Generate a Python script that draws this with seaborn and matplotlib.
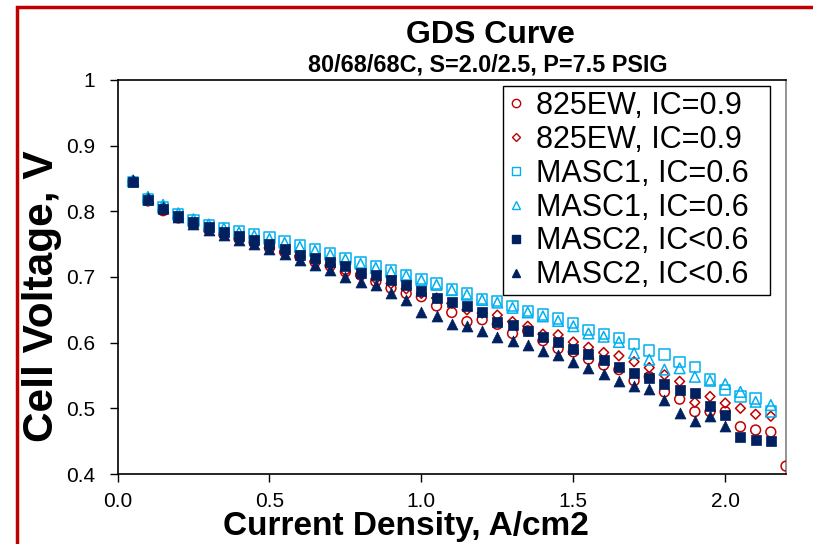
import numpy as np
import pandas as pd
import matplotlib
matplotlib.use("Agg")
import matplotlib.pyplot as plt
from matplotlib.lines import Line2D
from matplotlib.patches import Rectangle
from matplotlib.ticker import FuncFormatter
import seaborn as sns

# ---------------- data ----------------
current = [0.05, 0.1, 0.15, 0.2, 0.25, 0.3, 0.35, 0.4, 0.45, 0.5, 0.55, 0.6, 0.65, 0.7,
           0.75, 0.8, 0.85, 0.9, 0.95, 1.0, 1.05, 1.1, 1.15, 1.2, 1.25, 1.3, 1.35, 1.4,
           1.45, 1.5, 1.55, 1.6, 1.65, 1.7, 1.75, 1.8, 1.85, 1.9, 1.95, 2.0, 2.05, 2.1, 2.15]
current_825_circle = current + [2.2]
current_masc2_tri = current[:40]

v_825_circle = [0.845, 0.816, 0.801, 0.790, 0.781, 0.772, 0.765, 0.758, 0.752, 0.744, 0.738,
                0.731, 0.723, 0.717, 0.708, 0.703, 0.693, 0.683, 0.675, 0.670, 0.656, 0.646,
                0.632, 0.635, 0.628, 0.614, 0.618, 0.603, 0.591, 0.586, 0.575, 0.566, 0.559,
                0.542, 0.548, 0.525, 0.514, 0.495, 0.495, 0.495, 0.472, 0.467, 0.464, 0.412]
v_825_diamond = [0.845, 0.816, 0.802, 0.791, 0.782, 0.773, 0.766, 0.759, 0.753, 0.745, 0.739,
                 0.732, 0.724, 0.718, 0.709, 0.704, 0.697, 0.690, 0.682, 0.675, 0.668, 0.660,
                 0.650, 0.645, 0.642, 0.632, 0.625, 0.613, 0.612, 0.601, 0.593, 0.585, 0.580,
                 0.571, 0.562, 0.551, 0.541, 0.509, 0.518, 0.508, 0.500, 0.491, 0.488]
v_masc1_square = [0.845, 0.818, 0.806, 0.795, 0.786, 0.779, 0.775, 0.770, 0.765, 0.760, 0.754,
                  0.748, 0.742, 0.736, 0.729, 0.722, 0.716, 0.710, 0.703, 0.697, 0.690, 0.681,
                  0.675, 0.667, 0.663, 0.656, 0.648, 0.643, 0.637, 0.630, 0.619, 0.613, 0.607,
                  0.598, 0.588, 0.582, 0.571, 0.563, 0.544, 0.528, 0.518, 0.515, 0.495]
v_masc1_tri = [0.847, 0.822, 0.810, 0.797, 0.788, 0.780, 0.774, 0.768, 0.763, 0.758, 0.752,
               0.746, 0.740, 0.734, 0.727, 0.720, 0.714, 0.708, 0.702, 0.695, 0.688, 0.680,
               0.673, 0.665, 0.661, 0.653, 0.646, 0.640, 0.633, 0.625, 0.614, 0.609, 0.601,
               0.584, 0.574, 0.559, 0.561, 0.548, 0.542, 0.537, 0.525, 0.510, 0.505]
v_masc2_square = [0.845, 0.818, 0.804, 0.793, 0.784, 0.776, 0.769, 0.763, 0.757, 0.750, 0.742,
                  0.734, 0.729, 0.723, 0.716, 0.706, 0.703, 0.695, 0.688, 0.678, 0.668, 0.662,
                  0.656, 0.647, 0.631, 0.627, 0.618, 0.609, 0.601, 0.590, 0.582, 0.573, 0.563,
                  0.554, 0.546, 0.537, 0.528, 0.524, 0.503, 0.490, 0.456, 0.452, 0.451]
v_masc2_tri = [0.848, 0.820, 0.806, 0.792, 0.781, 0.772, 0.764, 0.757, 0.750, 0.742, 0.735,
               0.726, 0.718, 0.711, 0.700, 0.693, 0.688, 0.675, 0.665, 0.646, 0.641, 0.628,
               0.625, 0.618, 0.609, 0.603, 0.596, 0.587, 0.581, 0.570, 0.561, 0.553, 0.542,
               0.534, 0.529, 0.513, 0.493, 0.480, 0.488, 0.473]

labels = ["825EW, IC=0.9", "825EW, IC=0.9", "MASC1, IC=0.6", "MASC1, IC=0.6",
          "MASC2, IC<0.6", "MASC2, IC<0.6"]
x_ticks = [0.0, 0.5, 1.0, 1.5, 2.0]
y_ticks = [0.4, 0.5, 0.6, 0.7, 0.8, 0.9, 1.0]

title = "GDS Curve"
subtitle = "80/68/68C, S=2.0/2.5, P=7.5 PSIG"
xlabel = "Current Density, A/cm2"
ylabel = "Cell Voltage, V"

# ---------------- style ----------------
sns.set_theme(style="white")
plt.rcParams["font.family"] = ["Liberation Sans", "DejaVu Sans"]
plt.rcParams["text.color"] = "black"
plt.rcParams["axes.labelcolor"] = "black"
plt.rcParams["xtick.color"] = "black"
plt.rcParams["ytick.color"] = "black"

RED = "#C00000"
LBLUE = "#00B0F0"
NAVY = "#002060"

series = [
    (current_825_circle, v_825_circle, "o", RED, False, 50),
    (current, v_825_diamond, "D", RED, False, 25),
    (current, v_masc1_square, "s", LBLUE, False, 55),
    (current, v_masc1_tri, "^", LBLUE, False, 58),
    (current, v_masc2_square, "s", NAVY, True, 55),
    (current_masc2_tri, v_masc2_tri, "^", NAVY, True, 62),
]

fig = plt.figure(figsize=(8.13, 5.44), dpi=100)
ax = fig.add_axes([117.5 / 813, 70 / 544, 668.5 / 813, 394 / 544])

for (xs, ys, mk, col, filled, size), lab in zip(series, labels):
    df = pd.DataFrame({"x": xs, "y": ys})
    if filled:
        sns.scatterplot(data=df, x="x", y="y", marker=mk, s=size, color=col,
                        edgecolor=col, linewidth=0.5, ax=ax, zorder=3)
    else:
        sns.scatterplot(data=df, x="x", y="y", marker=mk, s=size, facecolor="none",
                        edgecolor=col, linewidth=1.1, ax=ax, zorder=3)

ax.set_xlim(0, 2.2)
ax.set_ylim(0.4, 1.0)
ax.set_xticks(x_ticks)
ax.set_yticks(y_ticks)
ax.xaxis.set_major_formatter(FuncFormatter(lambda v, p: f"{v:.1f}"))
ax.yaxis.set_major_formatter(FuncFormatter(lambda v, p: "1" if abs(v - 1) < 1e-9 else f"{v:.1f}"))
ax.tick_params(axis="both", which="major", direction="out", length=6, width=1,
               color="black", labelsize=15, labelcolor="black", left=True, bottom=True)
ax.tick_params(axis="y", pad=10)
ax.tick_params(axis="x", pad=7)

for side in ["left", "bottom", "top"]:
    ax.spines[side].set_color("black")
    ax.spines[side].set_linewidth(1.2)
ax.spines["right"].set_color("#808080")
ax.spines["right"].set_linewidth(1.2)

ax.set_xlabel(xlabel, fontsize=24, fontweight="bold", color="black")
ax.set_ylabel(ylabel, fontsize=30.5, fontweight="bold", color="black")
ax.xaxis.label.set_va("center")
ax.yaxis.label.set_va("center")
ax.xaxis.set_label_coords((406 - 117.5) / 668.5, (474 - 527) / 394)
ax.yaxis.set_label_coords((42 - 117.5) / 668.5, (474 - 296) / 394)

fig.text(490 / 813, 1 - 35 / 544, title, ha="center", va="center",
         fontsize=23, fontweight="bold", color="black")
fig.text(488 / 813, 1 - 65 / 544, subtitle, ha="center", va="center",
         fontsize=16.8, fontweight="bold", color="black")

handles = []
for (xs, ys, mk, col, filled, size), lab in zip(series, labels):
    ms = 6 if mk != "D" else 4.5
    handles.append(Line2D([], [], linestyle="", marker=mk, markersize=ms,
                          markerfacecolor=col if filled else "none",
                          markeredgecolor=col, markeredgewidth=1.0, label=lab + "  "))
leg = ax.legend(handles=handles, loc="upper right",
                bbox_to_anchor=((770 - 117.5) / 668.5, (474 - 86) / 394),
                fontsize=22, frameon=True, fancybox=False, framealpha=1,
                edgecolor="black", borderpad=0.15, labelspacing=0.13,
                handlelength=0.5, handletextpad=0.41, borderaxespad=0,
                labelcolor="black")
leg.get_frame().set_linewidth(1.0)

fig.patches.append(Rectangle((17 / 813, -0.2), 1.2, 1.2 + (544 - 7) / 544 - 1,
                             transform=fig.transFigure, fill=False,
                             edgecolor=RED, linewidth=2.5, zorder=10))

fig.savefig("out.png", dpi=100, facecolor="white")
